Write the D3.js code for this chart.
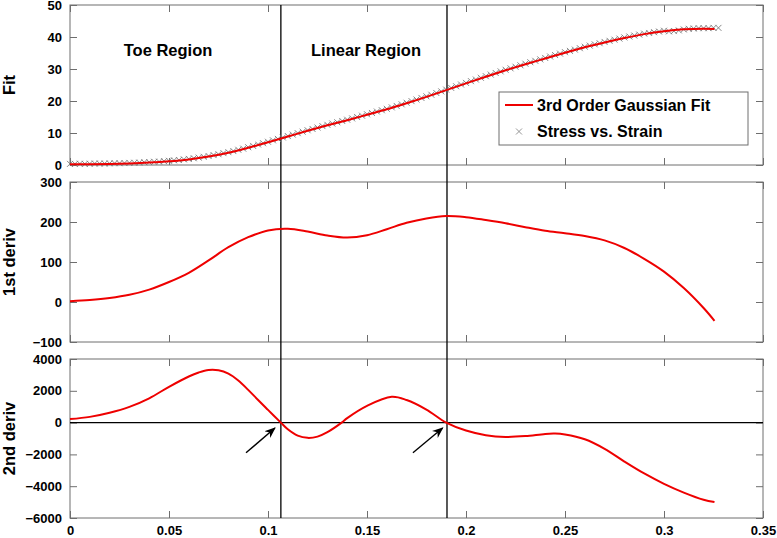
<!DOCTYPE html>
<html>
<head>
<meta charset="utf-8">
<script src="https://cdn.jsdelivr.net/npm/d3@7"></script>
<style>
  body { margin: 0; background: #fff; }
  svg text { font-family: "Liberation Sans", Arial, sans-serif; font-weight: bold; }
</style>
</head>
<body>
<div id="viz"></div>
<script>
// fitted curve (3rd order gaussian), sampled
const fitX = [0, 0.01, 0.02, 0.03, 0.04, 0.05, 0.06, 0.07, 0.08, 0.09, 0.1, 0.11, 0.12, 0.13, 0.14, 0.15, 0.16, 0.17,
  0.18, 0.19, 0.2, 0.21, 0.22, 0.23, 0.24, 0.25, 0.26, 0.27, 0.28, 0.29, 0.3, 0.31, 0.32, 0.3255];
const fitY = [0.2, 0.25, 0.35, 0.5, 0.75, 1.15, 1.75, 2.65, 3.85, 5.4, 7.1, 8.9, 10.7, 12.4, 14.0, 15.7, 17.4, 19.3,
  21.3, 23.4, 25.5, 27.6, 29.6, 31.5, 33.3, 35.1, 36.8, 38.3, 39.7, 40.9, 41.8, 42.4, 42.6, 42.5];
const deriv1 = [2, 5, 10, 18, 31, 50, 73, 104, 137, 162, 179, 183, 176, 166, 161, 167, 182, 198,
  209, 215, 212, 205, 197, 187, 178, 172, 165, 154, 135, 108, 76, 35, -15, -47];

// 2nd derivative sampled a bit finer round the bumps
const d2X = [0, 0.01, 0.02, 0.03, 0.04, 0.05, 0.06, 0.065, 0.07, 0.075, 0.08, 0.085, 0.09, 0.095, 0.1, 0.1065, 0.11,
  0.115, 0.12, 0.125, 0.13, 0.1372, 0.14, 0.15, 0.1625, 0.17, 0.18, 0.19, 0.2, 0.21, 0.22, 0.23, 0.24, 0.245,
  0.25, 0.26, 0.27, 0.28, 0.29, 0.3, 0.31, 0.32, 0.3255];
const deriv2 = [220, 360, 620, 990, 1530, 2250, 2900, 3150, 3310, 3290, 3080, 2650, 2060, 1420, 800, 0, -420,
  -820, -960, -880, -600, 0, 280, 1050, 1620, 1420, 820, 0, -500, -790, -900, -850, -710, -690,
  -750, -1050, -1650, -2450, -3200, -3850, -4400, -4850, -5000];

// measured stress vs strain, every 0.0025 strain
const strainStep = 0.0025;
const stress = [0.2, 0.2, 0.25, 0.2, 0.25, 0.3, 0.3, 0.3, 0.35, 0.4, 0.4, 0.45, 0.5, 0.55, 0.6, 0.7,
  0.75, 0.85, 0.9, 1.05, 1.15, 1.3, 1.4, 1.6, 1.75, 1.95, 2.15, 2.4, 2.65, 2.95, 3.2, 3.55,
  3.85, 4.2, 4.6, 4.95, 5.4, 5.8, 6.25, 6.65, 7.1, 7.55, 8.0, 8.45, 8.9, 9.35, 9.8, 10.25,
  10.7, 11.1, 11.55, 12.0, 12.4, 12.8, 13.2, 13.6, 14.0, 14.4, 14.85, 15.25, 15.7, 16.1, 16.55, 16.95,
  17.4, 17.85, 18.3, 18.8, 19.3, 19.8, 20.3, 20.8, 21.3, 21.8, 22.35, 22.85, 23.4, 23.95, 24.45, 25.0,
  25.5, 26.05, 26.55, 27.1, 27.6, 28.1, 28.6, 29.1, 29.6, 30.05, 30.55, 31.0, 31.5, 31.95, 32.4, 32.85,
  33.3, 33.75, 34.2, 34.65, 35.1, 35.5, 35.9, 36.35, 36.8, 37.15, 37.55, 37.9, 38.3, 38.65, 39.0, 39.35,
  39.7, 40.0, 40.3, 40.6, 40.9, 41.1, 41.35, 41.55, 41.8, 41.6, 41.7, 41.9, 42.2, 42.4, 42.5, 42.6,
  42.6, 42.6, 42.7, 42.7];

// inflection points of the fit
const regionBounds = [0.1065, 0.1904];
const regionNames = ["Toe Region", "Linear Region"];
const regionLabelX = [0.0495, 0.1495];
const arrowFrom = [[0.0889, -1900], [0.1732, -1900]];
const arrowTo = [[0.1035, -340], [0.1882, -340]];

const xTicks = [0, 0.05, 0.1, 0.15, 0.2, 0.25, 0.3, 0.35];
const panels = [
  { label: "Fit", domain: [0, 50], ticks: [0, 10, 20, 30, 40, 50], top: 5, bottom: 165 },
  { label: "1st deriv", domain: [-100, 300], ticks: [-100, 0, 100, 200, 300], top: 182, bottom: 342 },
  { label: "2nd deriv", domain: [-6000, 4000], ticks: [-6000, -4000, -2000, 0, 2000, 4000], top: 359, bottom: 518 }
];

const width = 777, height = 538;
const left = 70, right = 763;
const frameColor = "#6e6e6e";
const red = "#ee0000";

const svg = d3.select("#viz").append("svg")
  .attr("width", width)
  .attr("height", height);

svg.append("defs").append("marker")
  .attr("id", "head")
  .attr("viewBox", "0 0 10 10")
  .attr("refX", 9).attr("refY", 5)
  .attr("markerWidth", 8).attr("markerHeight", 8)
  .attr("orient", "auto")
  .append("path")
  .attr("d", "M0,1 L10,5 L0,9 L3,5 Z")
  .attr("fill", "black");

const x = d3.scaleLinear().domain([0, 0.35]).range([left, right]);
const ys = panels.map(p => d3.scaleLinear().domain(p.domain).range([p.bottom, p.top]));

panels.forEach((p, i) => {
  const y = ys[i];
  const g = svg.append("g");

  // inward ticks on all four sides
  g.append("g").attr("transform", `translate(${left},0)`)
    .call(d3.axisLeft(y).tickValues(p.ticks).tickSize(-7).tickPadding(8).tickFormat(d3.format("d")));
  g.append("g").attr("transform", `translate(${right},0)`)
    .call(d3.axisRight(y).tickValues(p.ticks).tickSize(-7).tickFormat(""));
  g.append("g").attr("transform", `translate(0,${p.top})`)
    .call(d3.axisTop(x).tickValues(xTicks).tickSize(-7).tickFormat(""));
  g.append("g").attr("transform", `translate(0,${p.bottom})`)
    .call(d3.axisBottom(x).tickValues(xTicks).tickSize(-7).tickPadding(8)
      .tickFormat(i === panels.length - 1 ? d3.format("") : ""));

  g.selectAll(".domain").remove();
  g.selectAll(".tick line").attr("stroke", frameColor);
  g.selectAll(".tick text").attr("fill", "black").style("font-size", "13px");

  g.append("rect")
    .attr("x", left).attr("y", p.top)
    .attr("width", right - left).attr("height", p.bottom - p.top)
    .attr("fill", "none").attr("stroke", frameColor);

  svg.append("text")
    .attr("transform", `translate(15,${(p.top + p.bottom) / 2}) rotate(-90)`)
    .attr("text-anchor", "middle")
    .style("font-size", "16.5px")
    .text(p.label);
});

// region dividers run through all three panels
svg.selectAll(".divider")
  .data(regionBounds)
  .join("line")
  .attr("x1", d => x(d)).attr("x2", d => x(d))
  .attr("y1", panels[0].top).attr("y2", panels[2].bottom)
  .attr("stroke", "black").attr("stroke-width", 1.3);

svg.selectAll(".region")
  .data(regionNames)
  .join("text")
  .attr("x", (d, i) => x(regionLabelX[i]))
  .attr("y", 56)
  .attr("text-anchor", "middle")
  .style("font-size", "16.5px")
  .text(d => d);

// top panel: measurements then the fit
const yFit = ys[0];
const mk = 3;
svg.append("g").selectAll("path")
  .data(stress)
  .join("path")
  .attr("d", (d, i) => {
    const cx = x(i * strainStep), cy = yFit(d) - 0.5;
    return `M${cx - mk},${cy - mk}L${cx + mk},${cy + mk}M${cx - mk},${cy + mk}L${cx + mk},${cy - mk}`;
  })
  .attr("stroke", "#7a7a7a").attr("stroke-width", 0.9).attr("fill", "none");

const lineOf = (xs, vals, y) => d3.line()
  .x((d, i) => x(xs[i]))
  .y(d => y(d))
  .curve(d3.curveCatmullRom.alpha(0.5))(vals);

svg.append("path")
  .attr("d", lineOf(fitX, fitY, yFit))
  .attr("fill", "none").attr("stroke", red).attr("stroke-width", 2);

svg.append("path")
  .attr("d", lineOf(fitX, deriv1, ys[1]))
  .attr("fill", "none").attr("stroke", red).attr("stroke-width", 2);

// zero line in 2nd deriv panel
svg.append("line")
  .attr("x1", left).attr("x2", right)
  .attr("y1", ys[2](0)).attr("y2", ys[2](0))
  .attr("stroke", "black").attr("stroke-width", 1.3);

svg.append("path")
  .attr("d", lineOf(d2X, deriv2, ys[2]))
  .attr("fill", "none").attr("stroke", red).attr("stroke-width", 2);

svg.selectAll(".arrow")
  .data(arrowFrom)
  .join("line")
  .attr("x1", d => x(d[0])).attr("y1", d => ys[2](d[1]))
  .attr("x2", (d, i) => x(arrowTo[i][0])).attr("y2", (d, i) => ys[2](arrowTo[i][1]))
  .attr("stroke", "black").attr("stroke-width", 1.4)
  .attr("marker-end", "url(#head)");

// legend
const lg = svg.append("g").attr("transform", "translate(499,92)");
lg.append("rect").attr("width", 249).attr("height", 53)
  .attr("fill", "white").attr("stroke", frameColor);
lg.append("line").attr("x1", 6).attr("x2", 34).attr("y1", 13).attr("y2", 13)
  .attr("stroke", red).attr("stroke-width", 2);
lg.append("path").attr("d", "M17,36.5L23,42.5M17,42.5L23,36.5")
  .attr("stroke", "#8a8a8a").attr("stroke-width", 0.9);
lg.append("text").attr("x", 38).attr("y", 19).style("font-size", "16px").text("3rd Order Gaussian Fit");
lg.append("text").attr("x", 38).attr("y", 45).style("font-size", "16px").text("Stress vs. Strain");
</script>
</body>
</html>
